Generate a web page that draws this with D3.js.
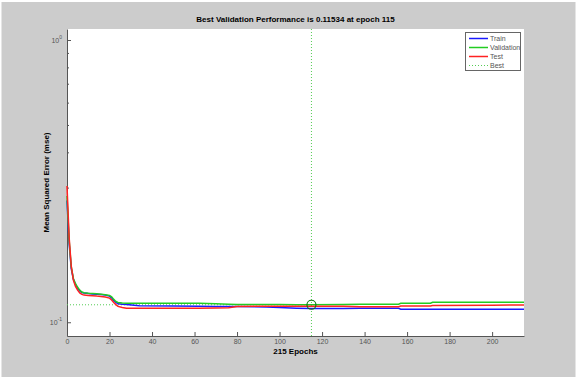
<!DOCTYPE html>
<html><head><meta charset="utf-8">
<script src="https://cdn.jsdelivr.net/npm/d3@7"></script>
<style>body{margin:0;background:#fff}svg{display:block}text{font-family:"Liberation Sans",Arial,sans-serif}</style>
</head><body><svg id="c" width="578" height="382"></svg>
<script>
const epochs = [0,1,2,3,4,5,6,7,8,10,12,14,16,18,20,21,22,23,24,26,28,34,50,62,70,76,80,94,100,108,115,130,138,156,157,171,172,200,215];
const train = [0.270,0.190,0.155,0.142,0.136,0.132,0.129,0.1275,0.127,0.1265,0.126,0.1258,0.1254,0.1248,0.1238,0.122,0.1195,0.1175,0.1162,0.1158,0.1155,0.1145,0.1142,0.1140,0.1138,0.1138,0.1137,0.1133,0.1128,0.1122,0.1118,0.1118,0.1120,0.1120,0.1112,0.1112,0.1112,0.1111,0.1111];
const validation = [0.280,0.195,0.157,0.143,0.137,0.133,0.130,0.128,0.1272,0.1268,0.1265,0.1262,0.1258,0.1252,0.1245,0.1230,0.1205,0.1185,0.1175,0.1170,0.1168,0.1167,0.1167,0.1167,0.1163,0.1158,0.1156,0.1155,0.1155,0.1154,0.11534,0.1156,0.1158,0.1159,0.1167,0.1168,0.1177,0.1177,0.1178];
const test = [0.304,0.200,0.158,0.141,0.134,0.130,0.127,0.1255,0.1248,0.1245,0.1242,0.1238,0.1235,0.1228,0.1218,0.120,0.1175,0.1155,0.1138,0.1128,0.1122,0.1120,0.1120,0.1122,0.1124,0.1126,0.1138,0.1140,0.1140,0.1140,0.1140,0.1139,0.1136,0.1136,0.1141,0.1142,0.1146,0.1150,0.1152];
const bestEpoch = 115;
const bestPerf = 0.11534;
const totalEpochs = 215;
const xTicks = [0,20,40,60,80,100,120,140,160,180,200];
const yMajor = [1,0.1];
const yMinor = [0.2,0.3,0.4,0.5,0.6,0.7,0.8,0.9];
const legendLabels = ["Train","Validation","Test","Best"];

const svg = d3.select("#c");
svg.append("rect").attr("x",1.5).attr("y",2).attr("width",574).attr("height",375).attr("fill","#cccccc");

const L=67,R=524,T=29,B=336;
svg.append("rect").attr("x",L).attr("y",T).attr("width",R-L).attr("height",B-T).attr("fill","#fff");

const x = d3.scaleLinear().domain([0,totalEpochs]).range([L,R]);
const y = d3.scaleLog().domain([0.0894,1.094]).range([B,T]);

const gx = svg.append("g").attr("transform",`translate(0,${B})`)
  .call(d3.axisBottom(x).tickValues(xTicks).tickSizeInner(-4).tickSizeOuter(0).tickPadding(3));
gx.select(".domain").attr("stroke","#555");
gx.selectAll(".tick line").attr("stroke","#555");
gx.selectAll("text").attr("font-size",7).attr("fill","#555");

const gy = svg.append("g").attr("transform",`translate(${L},0)`)
  .call(d3.axisLeft(y).tickValues(yMajor).tickSizeInner(-4).tickSizeOuter(0).tickFormat(()=>""));
gy.select(".domain").attr("stroke","#555");
gy.selectAll(".tick line").attr("stroke","#555");
const gym = svg.append("g").attr("transform",`translate(${L},0)`)
  .call(d3.axisLeft(y).tickValues(yMinor).tickSizeInner(-2).tickSizeOuter(0).tickFormat(()=>""));
gym.select(".domain").remove();
gym.selectAll(".tick line").attr("stroke","#555");
yMajor.forEach(v=>{
  const t = svg.append("text").attr("x",L-5).attr("y",y(v)+3).attr("text-anchor","end").attr("font-size",7).attr("fill","#555");
  t.append("tspan").text("10");
  t.append("tspan").attr("font-size",5).attr("dy",-4).text(Math.round(Math.log10(v)));
});

// best lines
svg.append("line").attr("x1",x(bestEpoch)).attr("x2",x(bestEpoch)).attr("y1",T).attr("y2",B)
  .attr("stroke","#55cc55").attr("stroke-width",1).attr("stroke-dasharray","1,2");
svg.append("line").attr("x1",x(0)).attr("x2",x(bestEpoch)).attr("y1",y(bestPerf)).attr("y2",y(bestPerf))
  .attr("stroke","#55cc55").attr("stroke-width",1).attr("stroke-dasharray","1,2");

const series = [[train,"#1a1aff"],[validation,"#22cc22"],[test,"#ff2222"]];
const line = d3.line().x((d,i)=>x(epochs[i])).y(d=>y(d));
series.forEach(([vals,col])=>{
  svg.append("path").datum(vals).attr("d",line).attr("fill","none").attr("stroke",col).attr("stroke-width",1.5);
});
svg.append("circle").attr("cx",x(bestEpoch)).attr("cy",y(bestPerf)).attr("r",4.5)
  .attr("fill","none").attr("stroke","#117711").attr("stroke-width",1.2);

// title and labels
svg.append("text").attr("x",(L+R)/2).attr("y",22).attr("text-anchor","middle").attr("font-size",8).attr("font-weight","bold")
  .text(`Best Validation Performance is ${bestPerf} at epoch ${bestEpoch}`);
svg.append("text").attr("x",(L+R)/2).attr("y",354).attr("text-anchor","middle").attr("font-size",8).attr("font-weight","bold")
  .text(`${totalEpochs} Epochs`);
svg.append("text").attr("transform",`translate(49,${(T+B)/2}) rotate(-90)`).attr("text-anchor","middle").attr("font-size",8).attr("font-weight","bold")
  .text("Mean Squared Error  (mse)");

// legend
const lg = svg.append("g");
lg.append("rect").attr("x",465.5).attr("y",32.5).attr("width",55).attr("height",38).attr("fill","#fff").attr("stroke","#666");
const lcols = ["#1a1aff","#22cc22","#ff2222","#55cc55"];
legendLabels.forEach((lab,i)=>{
  const yy = 38.5 + i*9;
  lg.append("line").attr("x1",469).attr("x2",488).attr("y1",yy).attr("y2",yy).attr("stroke",lcols[i])
    .attr("stroke-width",i<3?1.5:1).attr("stroke-dasharray",i<3?null:"1,2");
  lg.append("text").attr("x",490).attr("y",yy+2.5).attr("font-size",7).attr("fill","#555").text(lab);
});
</script></body></html>
